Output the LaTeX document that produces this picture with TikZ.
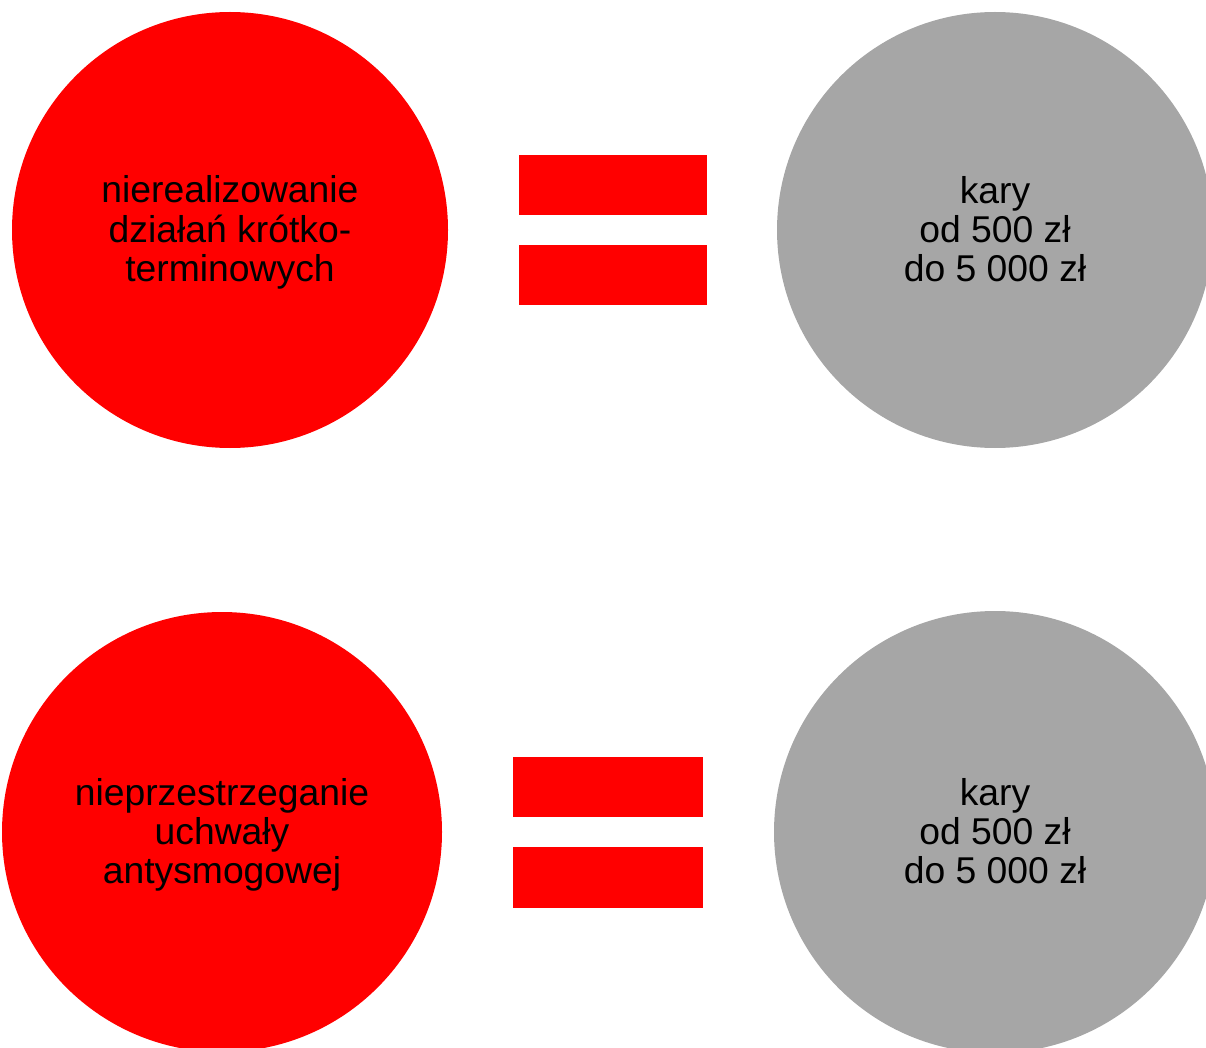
\documentclass[tikz,border=0pt]{standalone}
\usepackage{fontspec}
\setmainfont{Liberation Sans}
\definecolor{redc}{HTML}{FF0000}
\definecolor{grayc}{HTML}{A6A6A6}
\begin{document}
\begin{tikzpicture}[x=1pt,y=-1pt,
  reddisc/.style={circle,fill=redc,draw=none,minimum size=#1,inner sep=0pt},
  graydisc/.style={circle,fill=grayc,draw=none,minimum size=#1,inner sep=0pt},
  lbl/.style={align=center,font=\fontsize{37.3}{39}\selectfont,text=black,yshift=-4.5pt},
  bar/.style={fill=redc,draw=none}]
\useasboundingbox (0,0) rectangle (1206,1048);
\clip (0,0) rectangle (1206,1048);
\node[reddisc=436pt] (c1) at (230,230) {};
\node[graydisc=436pt] (c2) at (995,230) {};
\node[reddisc=440pt] (c3) at (222,832) {};
\node[graydisc=442pt] (c4) at (995,832) {};
\node[lbl] (t1) at (c1) {\strut nierealizowanie\\działań krótko-\\terminowych\strut};
\node[lbl] (t2) at (c2) {\strut kary\\od 500 zł\\do 5 000 zł\strut};
\node[lbl] (t3) at (c3) {\strut nieprzestrzeganie\\uchwały\\antysmogowej\strut};
\node[lbl] (t4) at (c4) {\strut kary\\od 500 zł\\do 5 000 zł\strut};
\fill[bar] (519,155) rectangle (707,215);
\fill[bar] (519,245) rectangle (707,305);
\fill[bar] (513,757) rectangle (703,817);
\fill[bar] (513,847) rectangle (703,908);
\end{tikzpicture}
\end{document}
